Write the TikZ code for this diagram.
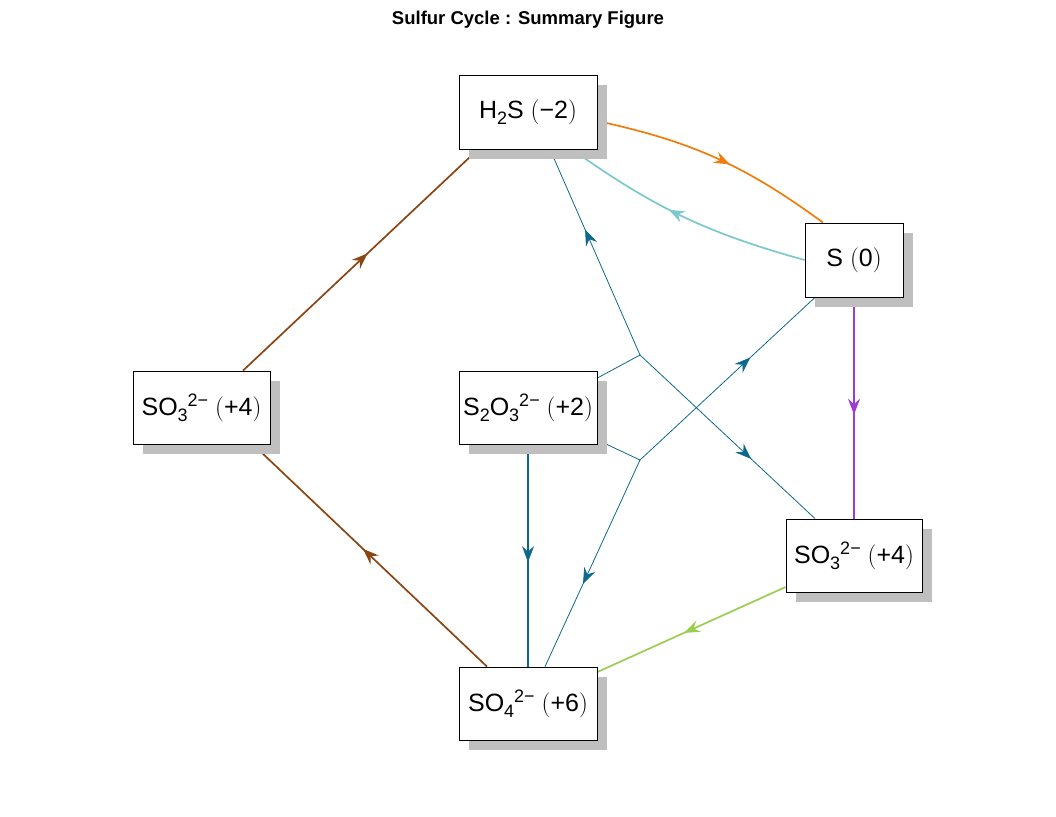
\documentclass[tikz,border=0pt]{standalone}
\usepackage{fontspec}
\setsansfont{Liberation Sans}
\usetikzlibrary{arrows.meta,decorations.markings,shadows,backgrounds}
\definecolor{cOrange}{RGB}{240,125,10}
\definecolor{cLTeal}{RGB}{125,200,205}
\definecolor{cTeal}{RGB}{12,105,140}
\definecolor{cBrown}{RGB}{139,69,19}
\definecolor{cPurple}{RGB}{155,60,210}
\definecolor{cGreen}{RGB}{155,205,80}
\newcommand\lpr{{\rmfamily(}}
\newcommand\rpr{{\rmfamily)}}
\newcommand\chsub[1]{\raisebox{-6pt}{\fontsize{18}{18}\selectfont #1}}
\newcommand\chsup[1]{\raisebox{9pt}{\fontsize{18}{18}\selectfont #1}}
\begin{document}
\begin{tikzpicture}[x=1pt,y=-1pt,
  species/.style={draw=black, line width=0.8pt, fill=white, inner sep=0pt,
    minimum height=74pt, font=\sffamily\fontsize{25}{30}\selectfont,
    drop shadow={shadow xshift=10pt, shadow yshift=-10pt, fill=black!25, opacity=1}},
  midarr/.style={postaction={decorate}, decoration={markings,
    mark=at position #1 with {\arrow{Stealth[length=16pt,width=12pt,inset=5.5pt]}}}},
  thickedge/.style={line width=1.7pt},
  thinedge/.style={draw=cTeal, line width=0.8pt},
]
\useasboundingbox (0,0) rectangle (1056,816);
\node[font=\sffamily\bfseries\fontsize{18.5}{22}\selectfont] (title) at (528,20) {Sulfur Cycle : Summary Figure};

\node[species, minimum width=138pt] (h2s) at (528,112) {H\chsub{2}S \lpr−2\rpr};
\node[species, minimum width=98pt] (s0) at (854,260) {S \lpr0\rpr};
\node[species, minimum width=137pt, minimum height=73pt] (so3l) at (201.5,407.5) {SO\chsub{3}\chsup{2−} \lpr+4\rpr};
\node[species, minimum width=138pt, minimum height=73pt] (s2o3) at (528,407.5) {S\chsub{2}O\chsub{3}\chsup{2−} \lpr+2\rpr};
\node[species, minimum width=136pt, minimum height=73pt] (so3r) at (854,555.5) {SO\chsub{3}\chsup{2−} \lpr+4\rpr};
\node[species, minimum width=138pt, minimum height=73pt] (so4) at (528,703.5) {SO\chsub{4}\chsup{2−} \lpr+6\rpr};

\coordinate (j1) at (640,355);
\coordinate (j2) at (640,460);

\begin{pgfonlayer}{background}
\draw[cOrange, thickedge, midarr=0.56] ([yshift=-9pt]h2s.east) to[bend left=12] ([xshift=-31pt]s0.north);
\draw[cLTeal, thickedge, midarr=0.56] (s0.west) to[bend left=10] ([xshift=44pt]h2s.south);
\draw[cBrown, thickedge, midarr=0.53] ([xshift=41.5pt]so3l.north) -- ([xshift=-50pt]h2s.south);
\draw[cBrown, thickedge, midarr=0.53] ([xshift=-41pt]so4.north) -- ([xshift=51.5pt]so3l.south);
\draw[cPurple, thickedge, midarr=0.53] (s0.south) -- (so3r.north);
\draw[cGreen, thickedge, midarr=0.54] ([yshift=-31.5pt]so3r.west) -- ([yshift=31.5pt]so4.east);
\draw[cTeal, line width=2pt, midarr=0.53] (s2o3.south) -- (so4.north);
\draw[thinedge] ([yshift=29.5pt]s2o3.east) -- (j1);
\draw[thinedge, midarr=0.61] (j1) -- ([xshift=22pt]h2s.south);
\draw[thinedge, midarr=0.635] (j1) -- ([xshift=-39pt]so3r.north);
\draw[thinedge] ([yshift=-32.5pt]s2o3.east) -- (j2);
\draw[thinedge, midarr=0.63] (j2) -- ([xshift=-39pt]s0.south);
\draw[thinedge, midarr=0.6] (j2) -- ([xshift=17pt]so4.north);
\end{pgfonlayer}
\end{tikzpicture}
\end{document}
